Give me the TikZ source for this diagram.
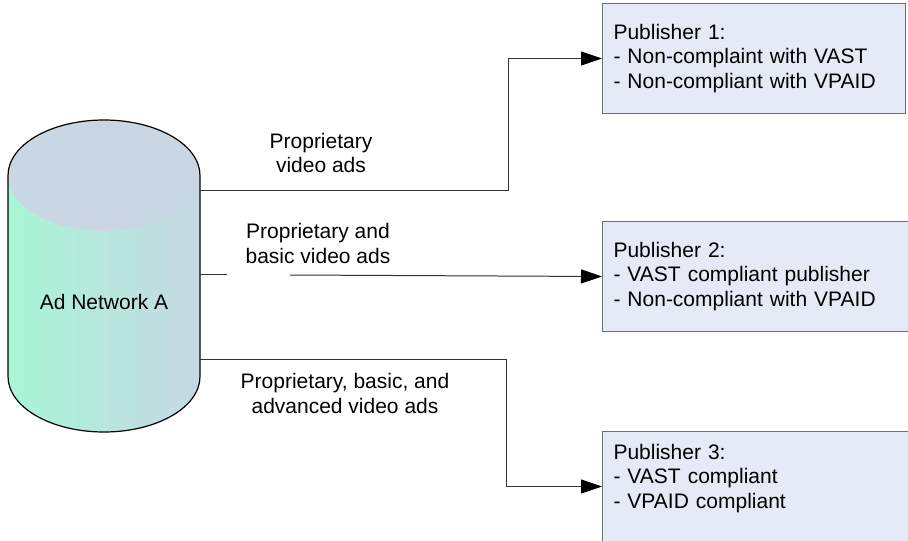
\documentclass[tikz,border=0pt]{standalone}
\usepackage{fontspec}
\setmainfont{Liberation Sans}
\usetikzlibrary{arrows.meta}
\definecolor{mint}{RGB}{168,246,214}
\definecolor{steelb}{RGB}{198,216,228}
\definecolor{topc}{RGB}{201,214,228}
\definecolor{boxfill}{RGB}{228,235,246}
\definecolor{boxline}{RGB}{110,110,110}
\definecolor{conncol}{RGB}{50,50,50}
\begin{document}
\begin{tikzpicture}[x=1pt,y=-1pt,
  every node/.style={font=\fontsize{21}{24.5}\selectfont},
  pub/.style={draw=boxline, line width=1pt, fill=boxfill, anchor=north west, align=left, minimum height=110pt, inner xsep=11pt},
  conn/.style={draw=conncol, line width=1pt},
  arr/.style={conn, -{Triangle[length=21pt,width=14pt,color=black]}},
  lbl/.style={align=center, inner sep=0pt}]
\useasboundingbox (0,0) rectangle (908,541);
\clip (0,0) rectangle (908,541);
\fill[white] (0,0) rectangle (908,541);

% cylinder
\shade[left color=mint,right color=steelb] (8,175.5) -- (8,376.5)
  arc[start angle=180,end angle=360,x radius=96pt,y radius=55.5pt] -- (200,175.5)
  arc[start angle=0,end angle=180,x radius=96pt,y radius=55.5pt] -- cycle;
\fill[topc] (104,175.5) ellipse [x radius=96pt, y radius=55.5pt];
\draw[line width=1.2pt] (8,175.5) -- (8,376.5)
  arc[start angle=180,end angle=360,x radius=96pt,y radius=55.5pt] -- (200,175.5)
  arc[start angle=0,end angle=180,x radius=96pt,y radius=55.5pt] -- cycle;
\node (net) at (104,302) {Ad Network A};

% publishers
\node[pub, text width=281pt] (pub1) at (602,3) {Publisher 1:\\- Non-complaint with VAST\\- Non-compliant with VPAID};
\node[pub, text width=300pt] (pub2) at (602,221) {Publisher 2:\\- VAST compliant publisher\\- Non-compliant with VPAID};
\node[pub, text width=300pt] (pub3) at (602,431) {Publisher 3:\\- VAST compliant\\- VPAID compliant\rule[-20.4pt]{0pt}{0pt}};

% connectors
\coordinate (o1) at (200,190);
\coordinate (b1) at (508,190);
\draw[arr] (o1) -- (b1) |- (pub1.west);

\coordinate (o2) at (200,274);
\coordinate (g2) at (227,274);
\coordinate (h2) at (290,275);
\draw[conn] (o2) -- (g2);
\draw[arr] (h2) -- (pub2.west);

\coordinate (o3) at (200,359);
\coordinate (b3) at (506,359);
\draw[arr] (o3) -- (b3) |- (pub3.west);

% labels
\node[lbl] (l1) at (321,153) {Proprietary\\video ads};
\node[lbl] (l2) at (318,243.5) {Proprietary and\\basic video ads};
\node[lbl] (l3) at (345,393.5) {Proprietary, basic, and\\advanced video ads};
\end{tikzpicture}
\end{document}
